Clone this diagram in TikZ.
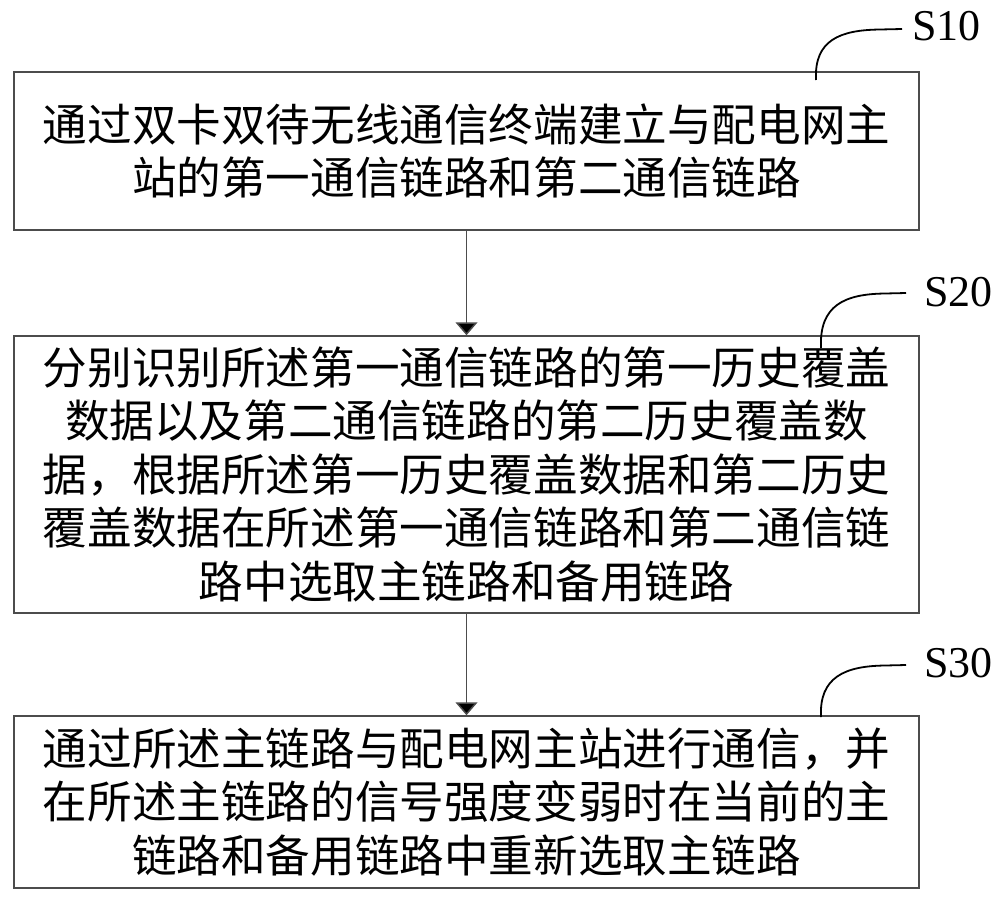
\documentclass[tikz,border=0pt]{standalone}
\usepackage{fontspec}
\setmainfont{Liberation Serif}
\newfontfamily\cjk{Noto Sans CJK SC}
\usetikzlibrary{arrows.meta}
\tikzset{
  stepbox/.style={draw=black!70, line width=1.5pt, minimum width=905pt, inner sep=0pt,
    align=center, font=\cjk\fontsize{44.6pt}{53.5pt}\selectfont},
  flowarrow/.style={draw=black!70, line width=1.5pt, -{Triangle[width=22pt,length=13pt,fill=black]}},
  callout/.style={draw=black, line width=1.8pt},
  steplabel/.style={font=\fontsize{44pt}{48pt}\selectfont, inner sep=0pt, anchor=west}
}
\begin{document}
\begin{tikzpicture}[x=1pt,y=-1pt]
\useasboundingbox (0,0) rectangle (1000,903);
\node[stepbox, minimum height=158pt] (b1) at (466.5,151)
  {通过双卡双待无线通信终端建立与配电网主\\站的第一通信链路和第二通信链路};
\node[stepbox, minimum height=277pt] (b2) at (466.5,474.5)
  {分别识别所述第一通信链路的第一历史覆盖\\数据以及第二通信链路的第二历史覆盖数\\据，根据所述第一历史覆盖数据和第二历史\\覆盖数据在所述第一通信链路和第二通信链\\路中选取主链路和备用链路};
\node[stepbox, minimum height=172pt] (b3) at (466.5,802)
  {通过所述主链路与配电网主站进行通信，并\\在所述主链路的信号强度变弱时在当前的主\\链路和备用链路中重新选取主链路};
\draw[flowarrow] (b1.south) -- (b2.north);
\draw[flowarrow] (b2.south) -- (b3.north);
\node[steplabel] (l1) at (912,26) {S10};
\node[steplabel] (l2) at (924,292) {S20};
\node[steplabel] (l3) at (924,663) {S30};
\coordinate (c1a) at (816,80);
\coordinate (c1b) at (902,29);
\coordinate (c2a) at (821,348);
\coordinate (c2b) at (906,293);
\coordinate (c3a) at (821,717);
\coordinate (c3b) at (906,665);
\draw[callout] (c1a) .. controls (814,40) and (840,30) .. (880,29.5) -- (c1b);
\draw[callout] (c2a) .. controls (819,305) and (845,294) .. (885,293.5) -- (c2b);
\draw[callout] (c3a) .. controls (819,677) and (845,666) .. (885,665.5) -- (c3b);
\end{tikzpicture}
\end{document}
